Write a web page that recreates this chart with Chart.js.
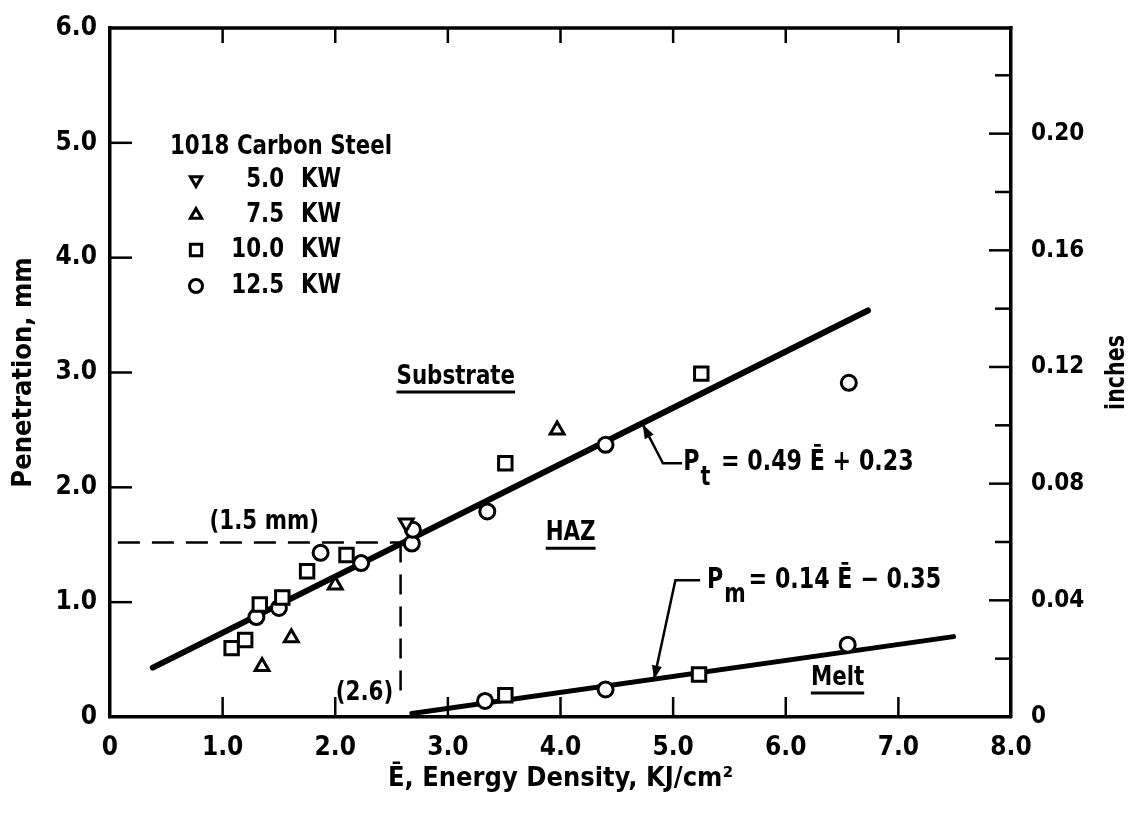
<!DOCTYPE html>
<html><head><meta charset="utf-8">
<script src="https://cdn.jsdelivr.net/npm/chart.js@4.4.1/dist/chart.umd.min.js"></script>
<style>html,body{margin:0;padding:0;background:#fff;}#wrap{width:1134px;height:813px;}</style>
</head><body><div id="wrap"><canvas id="c" width="1134" height="813"></canvas></div>
<script>
// ---------- data ----------
const X_TITLE = 'Ē, Energy Density, KJ/cm²';
const Y_TITLE = 'Penetration, mm';
const Y2_TITLE = 'inches';
const LEGEND_TITLE = '1018 Carbon Steel';
const seriesNames = ['5.0', '7.5', '10.0', '12.5'];
const MM_PER_INCH = 25.4;

const kw50  = [{x:2.63,y:1.69}];
const kw75  = [{x:1.35,y:0.44},{x:1.61,y:0.69},{x:2.00,y:1.15},{x:3.97,y:2.50}];
const kw100 = [{x:1.08,y:0.60},{x:1.20,y:0.67},{x:1.33,y:0.98},{x:1.53,y:1.04},{x:1.75,y:1.27},
               {x:2.10,y:1.41},{x:3.51,y:2.21},{x:5.25,y:2.99},{x:3.51,y:0.19},{x:5.23,y:0.37}];
const kw125 = [{x:1.30,y:0.87},{x:1.50,y:0.95},{x:1.87,y:1.43},{x:2.23,y:1.34},{x:2.68,y:1.51},
               {x:2.69,y:1.63},{x:3.35,y:1.79},{x:4.40,y:2.37},{x:6.56,y:2.91},{x:3.33,y:0.14},
               {x:4.40,y:0.24},{x:6.55,y:0.63}];
const totalFit = [{x:0.38,y:0.43},{x:6.73,y:3.54}];   // Pt = 0.49 E + 0.23
const meltFit  = [{x:2.68,y:0.03},{x:7.49,y:0.70}];   // Pm = 0.14 E - 0.35
const refH = [{x:0.07,y:1.52},{x:2.58,y:1.52}];
const refV = [{x:2.58,y:1.52},{x:2.58,y:0.17}];

// ---------- styling ----------
const FONT = "'DejaVu Sans Condensed','Liberation Sans Narrow','Arial Narrow','DejaVu Sans',sans-serif";
const SX = 0.88;   // horizontal squeeze for free text
Chart.defaults.font.family = FONT;
Chart.defaults.color = '#000';

const pointBase = {showLine:false, borderColor:'#000', backgroundColor:'#fff', borderWidth:3, pointHoverRadius:8};
const styles = [
  {pointStyle:'triangle', rotation:180, r:8},
  {pointStyle:'triangle', rotation:0, r:8},
  {pointStyle:'rect', rotation:0, r:9.5},
  {pointStyle:'circle', rotation:0, r:7.5}
];
const seriesData = [kw50, kw75, kw100, kw125];

const datasets = seriesData.map((d,i)=>Object.assign({label:seriesNames[i]+' KW', data:d}, pointBase,
   {pointStyle:styles[i].pointStyle, rotation:styles[i].rotation, pointRadius:styles[i].r}));
datasets.push({label:'Pt fit', data:totalFit, showLine:true, borderColor:'#000', borderWidth:6, pointRadius:0, borderCapStyle:'round'});
datasets.push({label:'Pm fit', data:meltFit, showLine:true, borderColor:'#000', borderWidth:5, pointRadius:0, borderCapStyle:'round'});
datasets.push({label:'ref h', data:refH, showLine:true, borderColor:'#000', borderWidth:2.5, borderDash:[22,12], pointRadius:0});
datasets.push({label:'ref v', data:refV, showLine:true, borderColor:'#000', borderWidth:2.5, borderDash:[20,12], pointRadius:0});

// annotation layout (data coordinates, text centre)
const notes = [
  {text:'Substrate', x:3.07, y:2.96, underline:true},
  {text:'HAZ', x:4.09, y:1.60, underline:true},
  {text:'Melt', x:6.46, y:0.34, underline:true},
  {text:'(1.5 mm)', x:1.37, y:1.70, underline:false},
  {text:'(2.6)', x:2.26, y:0.21, underline:false}
];
const eqs = [
  {main:'P', sub:'t', rest:' = 0.49 Ē + 0.23', x:5.09, y:2.21,
   leader:[{x:4.73,y:2.548},{x:4.91,y:2.21},{x:5.08,y:2.21}]},
  {main:'P', sub:'m', rest:'= 0.14 Ē − 0.35', x:5.30, y:1.19,
   leader:[{x:4.83,y:0.326},{x:5.02,y:1.19},{x:5.24,y:1.19}]}
];

function fmt1(v){ return Math.abs(v)<1e-9 ? '0' : v.toFixed(1); }
function isMajorInch(v){ const h=v*100; return Math.abs(h-Math.round(h))<1e-6 && Math.round(h)%4===0; }
function sText(ctx, text, x, y, align){
  const w = ctx.measureText(text).width*SX;
  let left = x;
  if (align==='center') left = x - w/2; else if (align==='right') left = x - w;
  ctx.save(); ctx.translate(left, y); ctx.scale(SX,1); ctx.textAlign='left'; ctx.fillText(text, 0, 0); ctx.restore();
  return {left, w};
}

const deco = {
  id:'deco',
  afterDraw(chart){
    const ctx = chart.ctx, a = chart.chartArea, sx = chart.scales.x, sy = chart.scales.y, s2 = chart.scales.y2;
    ctx.save();
    ctx.strokeStyle = '#000'; ctx.fillStyle = '#000';
    // top frame line
    ctx.lineWidth = 3.5;
    ctx.beginPath(); ctx.moveTo(a.left-1.5, a.top); ctx.lineTo(a.right+1.5, a.top); ctx.stroke();
    // inward ticks
    ctx.lineWidth = 2.5;
    sx.ticks.forEach(t=>{
      if (t.value<=sx.min || t.value>=sx.max) return;
      const px = sx.getPixelForValue(t.value);
      ctx.beginPath(); ctx.moveTo(px, a.bottom); ctx.lineTo(px, a.bottom-20); ctx.stroke();
      ctx.beginPath(); ctx.moveTo(px, a.top); ctx.lineTo(px, a.top+15); ctx.stroke();
    });
    sy.ticks.forEach(t=>{
      if (t.value<=sy.min || t.value>=sy.max) return;
      const py = sy.getPixelForValue(t.value);
      ctx.beginPath(); ctx.moveTo(a.left, py); ctx.lineTo(a.left+22, py); ctx.stroke();
    });
    s2.ticks.forEach(t=>{
      if (t.value<=s2.min || t.value>=s2.max) return;
      const py = s2.getPixelForValue(t.value);
      const len = isMajorInch(t.value) ? 22 : 16;
      ctx.beginPath(); ctx.moveTo(a.right, py); ctx.lineTo(a.right-len, py); ctx.stroke();
    });
    // right title, reading upward
    ctx.font = 'bold 26px ' + FONT;
    ctx.textBaseline = 'middle';
    ctx.save(); ctx.translate(1117, (a.top+a.bottom)/2); ctx.rotate(-Math.PI/2); sText(ctx, Y2_TITLE, 0, 0, 'center'); ctx.restore();

    // region notes
    ctx.font = 'bold 27px ' + FONT;
    notes.forEach(n=>{
      const px = sx.getPixelForValue(n.x), py = sy.getPixelForValue(n.y);
      const r = sText(ctx, n.text, px, py, 'center');
      if (n.underline){
        ctx.lineWidth = 3;
        ctx.beginPath(); ctx.moveTo(r.left, py+15); ctx.lineTo(r.left+r.w, py+15); ctx.stroke();
      }
    });
    // equations + leaders
    eqs.forEach(e=>{
      let px = sx.getPixelForValue(e.x); const py = sy.getPixelForValue(e.y);
      ctx.font = 'bold 28px ' + FONT;
      px += sText(ctx, e.main, px, py, 'left').w;
      ctx.font = 'bold 26px ' + FONT;
      px += sText(ctx, e.sub, px+1, py+15, 'left').w + 4;
      ctx.font = 'bold 28px ' + FONT;
      sText(ctx, e.rest, px, py, 'left');
      const pts = e.leader.map(p=>({x:sx.getPixelForValue(p.x), y:sy.getPixelForValue(p.y)}));
      ctx.lineWidth = 2.5;
      ctx.beginPath(); ctx.moveTo(pts[0].x, pts[0].y);
      for (let i=1;i<pts.length;i++) ctx.lineTo(pts[i].x, pts[i].y);
      ctx.stroke();
      const ang = Math.atan2(pts[0].y-pts[1].y, pts[0].x-pts[1].x);
      const L = 14, W = 5;
      ctx.beginPath();
      ctx.moveTo(pts[0].x, pts[0].y);
      ctx.lineTo(pts[0].x - L*Math.cos(ang) + W*Math.sin(ang), pts[0].y - L*Math.sin(ang) - W*Math.cos(ang));
      ctx.lineTo(pts[0].x - L*Math.cos(ang) - W*Math.sin(ang), pts[0].y - L*Math.sin(ang) + W*Math.cos(ang));
      ctx.closePath(); ctx.fill();
    });
    // legend
    ctx.font = 'bold 27px ' + FONT;
    sText(ctx, LEGEND_TITLE, 170, 147, 'left');
    const rows = [180, 215, 250, 286];
    seriesNames.forEach((nm,i)=>{
      const ds = chart.data.datasets[i];
      ctx.lineWidth = 3; ctx.strokeStyle = '#000'; ctx.fillStyle = '#fff';
      Chart.helpers.drawPoint(ctx, {pointStyle:ds.pointStyle, rotation:ds.rotation, radius: ds.pointStyle==='rect'?8:6.5, borderWidth:3}, 196, rows[i]);
      ctx.fillStyle = '#000';
      sText(ctx, nm, 284, rows[i], 'right');
      sText(ctx, 'KW', 301, rows[i], 'left');
    });
    ctx.restore();
  }
};

new Chart(document.getElementById('c'), {
  type:'scatter',
  data:{datasets},
  options:{
    responsive:false, animation:false, devicePixelRatio:1,
    layout:{padding:{top:28, left:0, right:0, bottom:0}},
    plugins:{legend:{display:false}, tooltip:{enabled:false}},
    scales:{
      x:{type:'linear', position:'bottom', min:0, max:8,
         ticks:{stepSize:1, font:{size:26, weight:'bold'}, color:'#000', padding:8, maxRotation:0, callback:v=>fmt1(v)},
         grid:{display:false}, border:{display:true, color:'#000', width:3.5},
         title:{display:true, text:X_TITLE, font:{size:27, weight:'bold'}, color:'#000', padding:{top:0, bottom:18}},
         afterFit:s=>{s.height=96;}},
      y:{type:'linear', position:'left', min:0, max:6,
         ticks:{stepSize:1, font:{size:26, weight:'bold'}, color:'#000', padding:5, callback:v=>fmt1(v)},
         grid:{display:false}, border:{display:true, color:'#000', width:3.5},
         title:{display:true, text:Y_TITLE, font:{size:27, weight:'bold'}, color:'#000', padding:{top:8, bottom:0}},
         afterFit:s=>{s.width=110;}},
      y2:{type:'linear', position:'right', min:0, max:6/MM_PER_INCH,
         ticks:{stepSize:0.02, includeBounds:false, font:{size:24, weight:'bold'}, color:'#000', padding:12, autoSkip:false,
                callback:v=> isMajorInch(v) ? (Math.abs(v)<1e-9 ? '0' : v.toFixed(2)) : ''},
         grid:{display:false}, border:{display:true, color:'#000', width:3.5},
         afterFit:s=>{s.width=123;}}
    }
  },
  plugins:[deco]
});
</script></body></html>
